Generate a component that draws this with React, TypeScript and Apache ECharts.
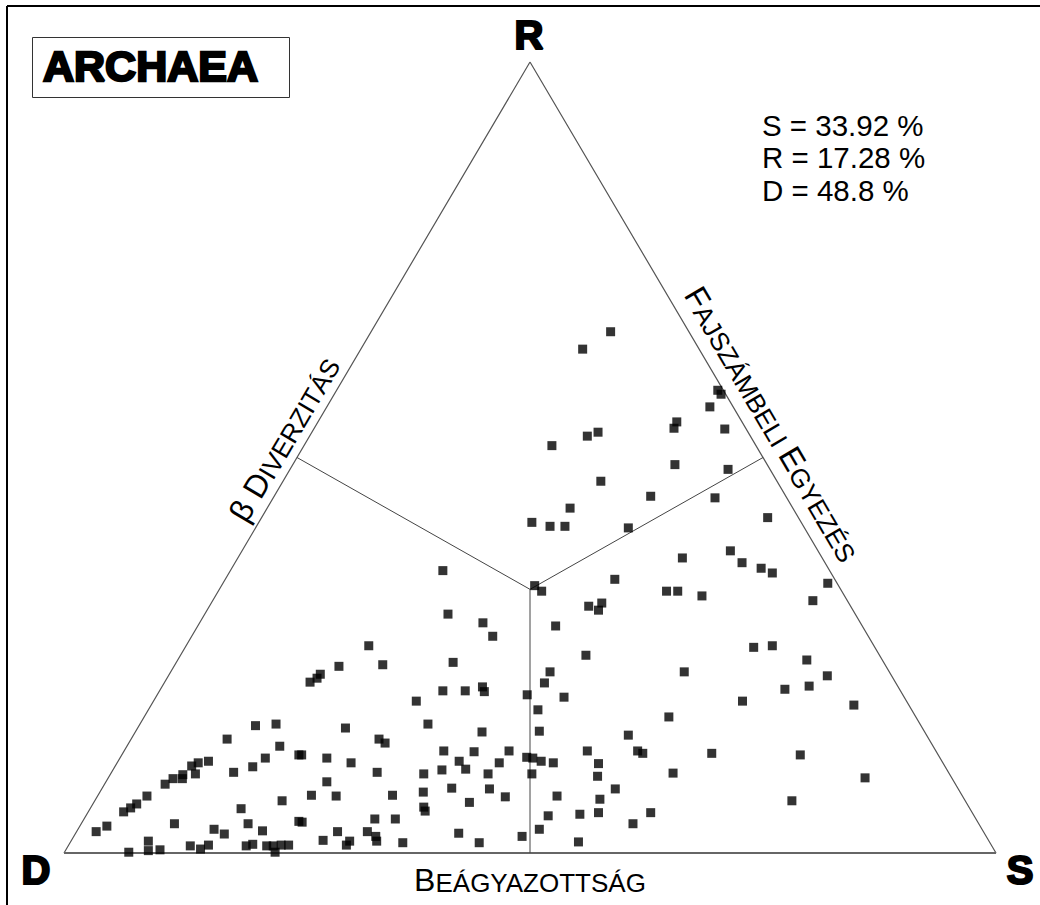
import React, { useEffect, useRef } from "react";
import * as echarts from "echarts";

// Ternary composition of each sample (S = species-number agreement, R = beta diversity, D = nestedness), in %
const sShare = [
  12.5, 14.6, 10.3, 16.4, 19.0, 15.6, 14.8, 13.1, 9.7, 8.7, 8.2, 9.1, 7.8, 8.0, 7.0, 6.5, 5.3, 4.7, 4.3, 3.8,
  2.9, 2.1, 20.1, 16.2, 10.0, 17.9, 23.2, 14.6, 16.0, 19.9, 8.3, 8.9, 6.9, 10.1, 13.1, 14.4, 15.0, 19.1, 19.7, 21.3,
  22.0, 22.6, 22.8, 23.6, 22.8, 33.6, 34.7, 26.1, 30.4, 32.3, 19.6, 17.7, 22.3, 29.7, 16.2, 16.1, 15.6, 30.4, 32.8, 34.4,
  34.9, 40.7, 40.8, 28.2, 39.7, 41.8, 30.9, 22.3, 37.2, 43.3, 26.6, 27.5, 19.3, 22.2, 25.1, 34.3, 37.6, 41.3, 36.6, 37.8,
  41.0, 43.6, 44.3, 45.4, 45.2, 28.5, 33.6, 35.3, 40.5, 23.7, 22.9, 25.6, 31.6, 34.7, 37.5, 41.6, 43.8, 40.3, 35.7, 36.1,
  23.6, 31.2, 33.4, 49.6, 49.5, 28.0, 31.2, 32.4, 32.8, 27.0, 29.9, 29.8, 35.7, 41.1, 43.9, 48.1, 25.7, 23.8, 40.9, 41.5,
  41.1, 38.5, 38.6, 44.1, 30.7, 29.8, 26.6, 41.0, 47.0, 34.1, 40.4, 47.4, 32.5, 29.3, 31.5, 33.1, 40.0, 54.3, 52.4, 47.7,
  54.4, 56.8, 58.3, 41.8, 48.1, 49.3, 52.2, 40.7, 41.9, 42.0, 64.4, 38.4, 61.0, 62.9, 67.5, 43.5, 55.1, 69.4, 67.0, 43.8,
  63.2, 56.3, 53.1, 55.1, 55.8, 49.7, 63.2, 72.8, 46.8, 51.7, 52.4, 60.3, 55.1, 49.3, 54.1, 74.8, 52.9, 54.8, 60.4, 59.2,
  54.5, 64.9, 70.7, 75.4, 81.2,
];
const rShare = [
  16.1, 16.3, 14.4, 13.5, 12.4, 12.0, 10.9, 10.2, 11.6, 11.4, 11.0, 10.0, 9.9, 9.4, 9.4, 8.7, 7.2, 6.2, 5.7, 5.2,
  3.4, 2.7, 6.6, 5.6, 3.7, 3.7, 4.0, 3.0, 2.4, 2.8, 1.5, 0.3, 0.1, 0.4, 0.9, 0.5, 1.0, 0.9, 1.1, 0.9,
  0.9, 0.1, 1.0, 1.0, 35.7, 33.8, 33.1, 30.2, 29.1, 27.4, 26.2, 23.6, 23.8, 24.1, 22.6, 22.1, 21.6, 20.5, 20.5, 21.0,
  20.4, 22.9, 21.5, 19.2, 20.0, 18.1, 16.3, 15.8, 15.3, 15.4, 14.4, 13.9, 12.4, 12.0, 11.4, 12.9, 12.8, 12.9, 11.6, 10.6,
  11.4, 12.1, 12.0, 11.6, 10.0, 10.2, 10.0, 10.5, 10.0, 9.0, 7.3, 7.2, 7.3, 7.7, 8.2, 8.1, 7.1, 6.4, 5.8, 5.3,
  3.9, 4.3, 4.3, 4.7, 3.0, 2.7, 2.7, 2.1, 1.5, 1.6, 1.5, 1.0, 1.3, 2.5, 1.3, 2.1, 65.9, 63.7, 58.5, 58.0,
  56.4, 54.5, 53.7, 53.6, 53.2, 52.7, 51.5, 49.1, 48.5, 47.0, 45.1, 44.9, 43.6, 41.8, 41.3, 41.3, 41.1, 42.4, 38.2, 37.3,
  36.7, 36.0, 35.4, 34.6, 33.1, 33.1, 32.5, 31.2, 31.6, 30.7, 31.9, 28.7, 26.0, 26.2, 24.4, 25.0, 22.9, 21.1, 20.7, 19.7,
  19.2, 17.2, 14.9, 12.9, 12.6, 12.9, 12.6, 12.4, 11.4, 11.3, 9.7, 10.1, 8.1, 7.2, 6.8, 6.6, 4.9, 5.1, 5.1, 3.7,
  1.4, 34.1, 22.4, 18.7, 9.5,
];

// Vertices as ternary compositions [S, R]
const vertexNames = ["D", "S", "R"];
const vertexComp: number[][] = [[0, 0], [100, 0], [0, 100]];
// Edge midpoints and centroid (region dividers)
const centroidComp = [100 / 3, 100 / 3];
const midComp: number[][] = [[50, 0], [0, 50], [50, 50]];

const statLines = ["S = 33.92 %", "R = 17.28 %", "D = 48.8 %"];
const titleText = "ARCHAEA";

const toXY = (s: number, r: number) => [s + r / 2, r];

const FONT = "'Liberation Sans', Arial, Helvetica, sans-serif";

export default function App() {
  const ref = useRef<HTMLDivElement>(null);
  useEffect(() => {
    if (!ref.current) return;
    const chart = echarts.init(ref.current, undefined, { renderer: "svg" });
    const pts = sShare.map((s, i) => toXY(s, rShare[i]));
    const tri = [...vertexComp, vertexComp[0]].map((c) => toXY(c[0], c[1]));
    const cen = toXY(centroidComp[0], centroidComp[1]);
    const dividers = midComp.map((m) => ({
      type: "line",
      data: [cen, toXY(m[0], m[1])],
      symbol: "none",
      silent: true,
      lineStyle: { color: "#444", width: 1 },
      z: 2,
    }));
    const smallCap = (big: number, small: number) => ({
      a: { fontSize: big, fontFamily: FONT, fill: "#000", verticalAlign: "bottom", lineHeight: big },
      b: { fontSize: small, fontFamily: FONT, fill: "#000", verticalAlign: "bottom", lineHeight: big },
    });
    const rot = (59.5 * Math.PI) / 180;
    chart.setOption({
      animation: false,
      backgroundColor: "#fff",
      grid: { left: 64, top: 62, width: 932, height: 791, containLabel: false },
      xAxis: { type: "value", min: 0, max: 100, show: false },
      yAxis: { type: "value", min: 0, max: 100, show: false },
      series: [
        {
          type: "line",
          data: tri,
          symbol: "none",
          silent: true,
          lineStyle: { color: "#555", width: 1.2 },
          z: 2,
        },
        {
          type: "line",
          data: [tri[0], tri[1]],
          symbol: "none",
          silent: true,
          lineStyle: { color: "#666", width: 2 },
          z: 2,
        },
        ...dividers,
        {
          type: "scatter",
          data: pts,
          symbol: "rect",
          symbolSize: 9,
          itemStyle: { color: "#000" },
          z: 5,
        },
      ],
      graphic: [
        { type: "line", shape: { x1: 7, y1: 6, x2: 1040, y2: 6 }, style: { stroke: "#000", lineWidth: 2 } },
        { type: "line", shape: { x1: 7, y1: 6, x2: 7, y2: 905 }, style: { stroke: "#000", lineWidth: 2 } },
        {
          type: "rect",
          shape: { x: 32.5, y: 37.5, width: 257, height: 60 },
          style: { fill: "#fff", stroke: "#333", lineWidth: 1 },
        },
        {
          type: "text",
          x: 43,
          y: 66,
          style: {
            text: titleText,
            font: `bold 43px ${FONT}`,
            fill: "#000",
            stroke: "#000",
            lineWidth: 2.4,
            verticalAlign: "middle",
          },
        },
        ...[
          { t: vertexNames[2], x: 529, y: 35 },
          { t: vertexNames[0], x: 36, y: 870 },
          { t: vertexNames[1], x: 1020, y: 870 },
        ].map((v) => ({
          type: "text",
          x: v.x,
          y: v.y,
          style: {
            text: v.t,
            font: `bold 40px ${FONT}`,
            fill: "#000",
            stroke: "#000",
            lineWidth: 2.2,
            align: "center",
            verticalAlign: "middle",
          },
        })),
        ...statLines.map((t, i) => ({
          type: "text",
          x: 762,
          y: 125 + i * 32.5,
          style: { text: t, font: `29.5px ${FONT}`, fill: "#000", align: "left", verticalAlign: "middle" },
        })),
        {
          type: "text",
          x: 530,
          y: 880,
          style: {
            text: "{a|B}{b|EÁGYAZOTTSÁG}",
            rich: smallCap(32, 26),
            align: "center",
            verticalAlign: "middle",
          },
        },
        {
          type: "text",
          x: 284,
          y: 439,
          rotation: rot,
          style: {
            text: "{a|β D}{b|IVERZITÁS}",
            rich: smallCap(32, 26),
            align: "center",
            verticalAlign: "middle",
          },
        },
        {
          type: "text",
          x: 772,
          y: 424,
          rotation: -rot,
          style: {
            text: "{a|F}{b|AJSZÁMBELI }{a|E}{b|GYEZÉS}",
            rich: smallCap(32, 26),
            align: "center",
            verticalAlign: "middle",
          },
        },
      ],
    });
    return () => chart.dispose();
  }, []);
  return (
    <div
      ref={ref}
      style={{ position: "absolute", left: 0, top: 0, width: 1040, height: 905, background: "#fff" }}
    />
  );
}
